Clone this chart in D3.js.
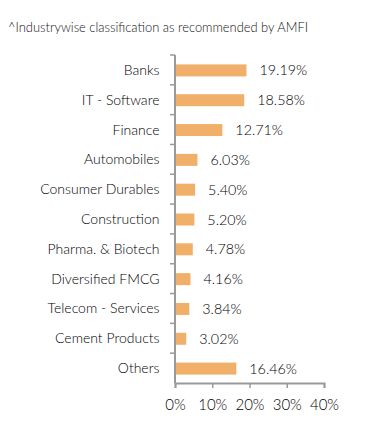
<!DOCTYPE html>
<html><head><meta charset="utf-8">
<script src="https://cdn.jsdelivr.net/npm/d3@7"></script>
<style>
body{margin:0;background:#fff;}
svg{display:block;}
</style></head>
<body>
<svg id="chart" width="391" height="436"></svg>
<script>
const categories = ["Banks","IT - Software","Finance","Automobiles","Consumer Durables","Construction","Pharma. & Biotech","Diversified FMCG","Telecom - Services","Cement Products","Others"];
const values = [19.19,18.58,12.71,6.03,5.40,5.20,4.78,4.16,3.84,3.02,16.46];
const valueLabels = ["19.19%","18.58%","12.71%","6.03%","5.40%","5.20%","4.78%","4.16%","3.84%","3.02%","16.46%"];
const xTicks = [0,10,20,30,40];
const title = "^Industrywise classification as recommended by AMFI";

const svg = d3.select("#chart");
const font = "Lato, sans-serif";
const x = d3.scaleLinear().domain([0,40]).range([175,324]);
const y = d3.scaleBand().domain(categories).range([55,383]).padding(0);
const barH = 12;

svg.append("text").attr("x",8).attr("y",32).attr("font-family",font).attr("font-size",12.9)
  .attr("font-weight",300).attr("fill","#111").text(title);

// bars
svg.selectAll("rect.bar").data(categories).join("rect").attr("class","bar")
  .attr("x",x(0)+1).attr("y",(d)=>y(d)+y.bandwidth()/2-barH/2+0.5)
  .attr("width",(d,i)=>x(values[i])-x(0)-1).attr("height",barH)
  .attr("fill","#f0b06a");

// value labels
svg.selectAll("text.val").data(categories).join("text").attr("class","val")
  .attr("x",(d,i)=>x(values[i])+13).attr("y",(d)=>y(d)+y.bandwidth()/2+5.5)
  .attr("font-family",font).attr("font-size",14.3).attr("font-weight",300).attr("fill","#000")
  .text((d,i)=>valueLabels[i]);

// category labels
svg.selectAll("text.cat").data(categories).join("text").attr("class","cat")
  .attr("x",159.5).attr("y",(d)=>y(d)+y.bandwidth()/2+5)
  .attr("text-anchor","end").attr("font-family",font).attr("font-size",14).attr("font-weight",300).attr("fill","#000")
  .text(d=>d);

// y axis line and ticks at band edges
const axisColor = "#999";
svg.append("line").attr("x1",x(0)).attr("x2",x(0)).attr("y1",55).attr("y2",383)
  .attr("stroke",axisColor).attr("stroke-width",2);
const edges = categories.map(d=>y(d));
svg.selectAll("line.ytick").data(edges).join("line").attr("class","ytick")
  .attr("x1",x(0)-5).attr("x2",x(0)).attr("y1",d=>d).attr("y2",d=>d)
  .attr("stroke",axisColor).attr("stroke-width",1.5);

// x axis
const xa = svg.append("g").attr("transform","translate(0,383)")
  .call(d3.axisBottom(x).tickValues(xTicks).tickFormat(d=>d+"%").tickSize(5).tickPadding(11));
xa.select(".domain").attr("stroke",axisColor).attr("stroke-width",2);
xa.selectAll(".tick line").attr("stroke",axisColor).attr("stroke-width",1.5);
xa.selectAll(".tick text").attr("font-family",font).attr("font-size",15).attr("font-weight",300).attr("fill","#000");
</script>
</body></html>
